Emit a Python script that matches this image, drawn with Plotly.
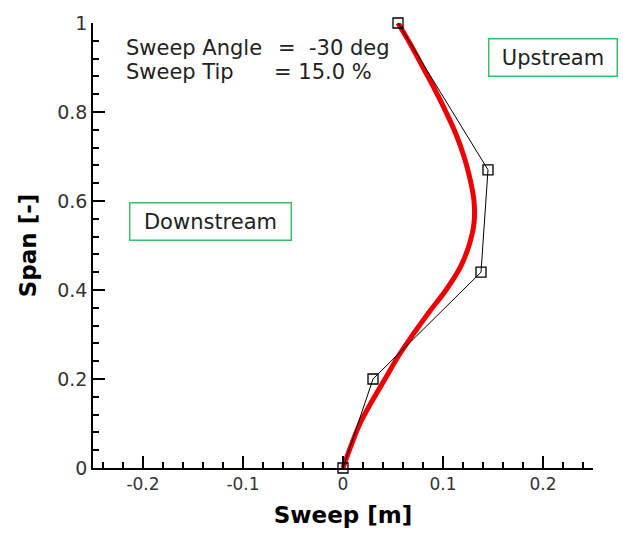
import plotly.graph_objects as go

# Control points of the sweep distribution (span fraction vs sweep offset)
ctrl_span = [0.0, 0.2, 0.44, 0.67, 1.0]
ctrl_sweep = [0.0, 0.030, 0.138, 0.145, 0.055]

# Resulting smooth sweep curve
curve_span = [0.0, 0.05, 0.10, 0.15, 0.20, 0.25, 0.30, 0.35, 0.40, 0.45, 0.50,
              0.55, 0.60, 0.65, 0.70, 0.75, 0.80, 0.85, 0.90, 0.95, 1.0]
curve_sweep = [0.0, 0.008, 0.017, 0.029, 0.042, 0.055, 0.070, 0.086, 0.103, 0.117, 0.126,
               0.131, 0.131, 0.127, 0.121, 0.113, 0.103, 0.092, 0.080, 0.068, 0.055]

x_ticks = [-0.2, -0.1, 0.0, 0.1, 0.2]
x_tick_text = ["-0.2", "-0.1", "0", "0.1", "0.2"]
y_ticks = [0.0, 0.2, 0.4, 0.6, 0.8, 1.0]
y_tick_text = ["0", "0.2", "0.4", "0.6", "0.8", "1"]

FONT = "DejaVu Sans"
GREEN = "#3dbd6c"

fig = go.Figure()
fig.add_trace(go.Scatter(
    x=curve_sweep, y=curve_span, mode="lines",
    line=dict(color="#ee0000", width=5, shape="spline", smoothing=1.0),
    showlegend=False,
))
fig.add_trace(go.Scatter(
    x=ctrl_sweep, y=ctrl_span, mode="lines+markers",
    line=dict(color="black", width=1),
    marker=dict(symbol="square-open", size=10, color="black", line=dict(width=1.3)),
    showlegend=False, cliponaxis=False,
))

axis_common = dict(
    showline=True, linecolor="black", linewidth=1.5,
    ticks="inside", ticklen=12, tickwidth=1.5, tickcolor="black",
    showgrid=False, zeroline=False, mirror=False,
)

fig.update_xaxes(
    range=[-0.25, 0.25], tickvals=x_ticks, ticktext=x_tick_text,
    tickfont=dict(family=FONT, size=17, color="#333333"),
    minor=dict(dtick=0.02, tick0=0, ticks="inside", ticklen=6, tickwidth=1.5, tickcolor="black"),
    title=dict(text="<b>Sweep [m]</b>", font=dict(family=FONT, size=23, color="black"), standoff=14),
    **axis_common,
)
fig.update_yaxes(
    range=[0, 1], tickvals=y_ticks, ticktext=y_tick_text,
    tickfont=dict(family=FONT, size=19, color="#333333"),
    minor=dict(dtick=0.04, tick0=0, ticks="inside", ticklen=6, tickwidth=1.5, tickcolor="black"),
    title=dict(text="<b>Span [-]</b>", font=dict(family=FONT, size=23, color="black"), standoff=14),
    **axis_common,
)

text_font = dict(family=FONT, size=21, color="#222222")
annotations = [
    dict(x=-0.219, y=0.944, text="Sweep Angle", xanchor="left"),
    dict(x=-0.067, y=0.944, text="=\u00a0\u00a0-30 deg", xanchor="left"),
    dict(x=-0.219, y=0.891, text="Sweep Tip", xanchor="left"),
    dict(x=-0.071, y=0.891, text="=\u00a015.0 %", xanchor="left"),
]
for a in annotations:
    fig.add_annotation(xref="x", yref="y", showarrow=False, yanchor="middle",
                       font=text_font, **a)

for label, cx, cy, w in [("Downstream", -0.133, 0.554, 150), ("Upstream", 0.2095, 0.923, 117)]:
    fig.add_annotation(
        xref="x", yref="y", x=cx, y=cy, text=label, showarrow=False,
        xanchor="center", yanchor="middle", width=w, height=26,
        font=text_font, bordercolor=GREEN, borderwidth=1.5, borderpad=5,
        bgcolor="white",
    )

fig.update_layout(
    width=623, height=536,
    margin=dict(l=93, r=30, t=21, b=65),
    plot_bgcolor="white", paper_bgcolor="white",
    font=dict(family=FONT),
)

fig.write_html("out.html")
